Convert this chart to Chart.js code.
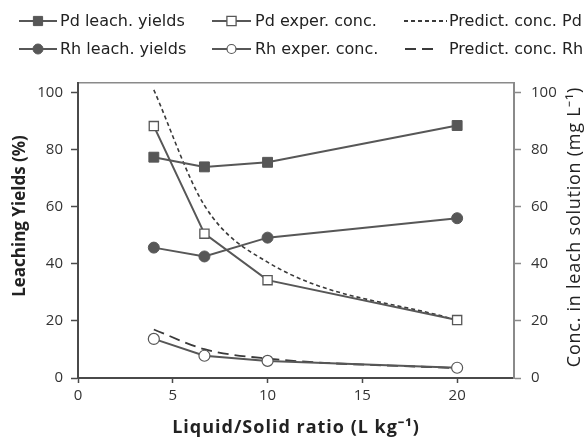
<!DOCTYPE html>
<html>
<head>
<meta charset="utf-8">
<script src="https://cdn.jsdelivr.net/npm/chart.js@4"></script>
<style>
  html, body { margin: 0; padding: 0; background: #fff; }
  #wrap { width: 585px; height: 440px; position: relative; }
</style>
</head>
<body>
<div id="wrap"><canvas id="chart" width="585" height="440"></canvas></div>
<script>
// Liquid/solid ratios (L/kg)
const ratios = [4, 6.67, 10, 20];
// Leaching yields (%) – left axis
const pdYield = [77.4, 74.0, 75.6, 88.5];
const rhYield = [45.7, 42.6, 49.2, 56.0];
// Measured concentrations (mg/L) – right axis
const pdConc = [88.3, 50.6, 34.3, 20.3];
const rhConc = [13.7, 7.8, 6.0, 3.6];
// Predicted concentrations (mg/L) – right axis
const pdPred = [101, 60.5, 40.6, 20.2];
const rhPred = [17.0, 10.1, 6.8, 3.4];

const xTicks = [0, 5, 10, 15, 20];
const yTicks = [0, 20, 40, 60, 80, 100];

const xTitle = 'Liquid/Solid ratio (L kg⁻¹)';
const yTitle = 'Leaching Yields (%)';
const y2Title = 'Conc. in leach solution (mg L⁻¹)';

const INK = '#575757';
const pts = ys => ratios.map((x, i) => ({ x, y: ys[i] }));

const series = [
  { label: 'Pd leach. yields', data: pts(pdYield), yAxisID: 'y', borderColor: INK, backgroundColor: INK,
    pointStyle: 'rect', pointRadius: 7, borderWidth: 2, pointBorderWidth: 1, legendRadius: 6.5 },
  { label: 'Pd exper. conc.', data: pts(pdConc), yAxisID: 'y2', borderColor: INK, backgroundColor: '#fff',
    pointStyle: 'rect', pointRadius: 6.5, borderWidth: 2, pointBorderWidth: 1.3, legendRadius: 6.5 },
  { label: 'Predict. conc. Pd', data: pts(pdPred), yAxisID: 'y2', borderColor: '#3a3a3a', backgroundColor: '#3a3a3a',
    pointRadius: 0, borderWidth: 1.6, borderDash: [4, 3], cubicInterpolationMode: 'monotone' },
  { label: 'Rh leach. yields', data: pts(rhYield), yAxisID: 'y', borderColor: INK, backgroundColor: INK,
    pointStyle: 'circle', pointRadius: 5.5, borderWidth: 2, pointBorderWidth: 1, legendRadius: 5 },
  { label: 'Rh exper. conc.', data: pts(rhConc), yAxisID: 'y2', borderColor: INK, backgroundColor: '#fff',
    pointStyle: 'circle', pointRadius: 5.5, borderWidth: 2, pointBorderWidth: 1.2, legendRadius: 4.5 },
  { label: 'Predict. conc. Rh', data: pts(rhPred), yAxisID: 'y2', borderColor: '#3a3a3a', backgroundColor: '#3a3a3a',
    pointRadius: 0, borderWidth: 1.8, borderDash: [11, 6], cubicInterpolationMode: 'monotone' }
];

// Legend layout: two rows, three columns
const legendSlots = [
  { x0: 19, x1: 57, tx: 60, y: 21 },
  { x0: 212, x1: 251, tx: 255, y: 21 },
  { x0: 404, x1: 447, tx: 449, y: 21 },
  { x0: 19, x1: 57, tx: 60, y: 49 },
  { x0: 212, x1: 251, tx: 255, y: 49 },
  { x0: 405, x1: 434, tx: 449, y: 49 }
];

const gridLegend = {
  id: 'gridLegend',
  afterDraw(chart) {
    const ctx = chart.ctx;
    ctx.save();
    chart.data.datasets.forEach((ds, i) => {
      const s = legendSlots[i];
      ctx.strokeStyle = ds.borderColor;
      ctx.lineWidth = 2;
      ctx.setLineDash(ds.borderDash || []);
      ctx.beginPath();
      ctx.moveTo(s.x0, s.y);
      ctx.lineTo(s.x1, s.y);
      ctx.stroke();
      ctx.setLineDash([]);
      if (ds.pointRadius > 0) {
        ctx.fillStyle = ds.backgroundColor;
        ctx.strokeStyle = ds.borderColor;
        ctx.lineWidth = ds.pointBorderWidth;
        Chart.helpers.drawPoint(ctx, {
          pointStyle: ds.pointStyle, radius: ds.legendRadius, rotation: 0, borderWidth: ds.pointBorderWidth
        }, (s.x0 + s.x1) / 2, s.y);
      }
      ctx.fillStyle = '#222';
      ctx.font = '16px "DejaVu Sans", sans-serif';
      ctx.textBaseline = 'middle';
      ctx.textAlign = 'left';
      ctx.fillText(ds.label, s.tx, s.y + 1);
    });
    ctx.restore();
  }
};

// Axis titles, placed around the plot area
const axisTitles = {
  id: 'axisTitles',
  afterDraw(chart) {
    const ctx = chart.ctx;
    const a = chart.chartArea;
    ctx.save();
    ctx.fillStyle = '#222';
    ctx.textAlign = 'center';
    ctx.textBaseline = 'middle';

    ctx.font = 'bold 18px "Open Sans", sans-serif';
    ctx.letterSpacing = '1px';
    ctx.fillText(xTitle, (a.left + a.right) / 2, 428);

    ctx.letterSpacing = '0px';
    ctx.font = 'bold 17px "Open Sans", sans-serif';
    ctx.save();
    ctx.translate(20, 216);
    ctx.rotate(-Math.PI / 2);
    ctx.fillText(yTitle, 0, 0);
    ctx.restore();

    ctx.font = '18px "Open Sans", sans-serif';
    ctx.letterSpacing = '0.75px';
    ctx.save();
    ctx.translate(575, 227);
    ctx.rotate(-Math.PI / 2);
    ctx.fillText(y2Title, 0, 0);
    ctx.restore();
    ctx.restore();
  }
};

const tickFont = { family: '"Open Sans", sans-serif', size: 15 };
const onlyTicks = list => axis => { axis.ticks = list.map(v => ({ value: v })); };

new Chart(document.getElementById('chart'), {
  type: 'line',
  data: { datasets: series },
  plugins: [gridLegend, axisTitles],
  options: {
    responsive: false,
    animation: false,
    layout: { padding: { top: 83, left: 0, right: 0, bottom: 0 } },
    plugins: { legend: { display: false }, tooltip: { enabled: false } },
    scales: {
      x: {
        type: 'linear', min: 0, max: 23,
        afterBuildTicks: onlyTicks(xTicks),
        afterFit: s => { s.height = 62; },
        border: { color: '#4a4a4a', width: 2 },
        grid: { drawOnChartArea: false, tickLength: 5, tickColor: '#4a4a4a', tickWidth: 1.5 },
        ticks: { font: tickFont, color: '#333', padding: 4, maxRotation: 0 }
      },
      xTop: {
        type: 'linear', position: 'top', min: 0, max: 23,
        afterFit: s => { s.height = 0; },
        border: { color: '#8a8a8a', width: 1.5 },
        grid: { display: false },
        ticks: { display: false }
      },
      y: {
        type: 'linear', position: 'left', min: 0, max: 103.4,
        afterBuildTicks: onlyTicks(yTicks),
        afterFit: s => { s.width = 78; },
        border: { color: '#4a4a4a', width: 2 },
        grid: { drawOnChartArea: false, tickLength: 7, tickColor: '#4a4a4a', tickWidth: 1.5 },
        ticks: { font: tickFont, color: '#333', padding: 8 }
      },
      y2: {
        type: 'linear', position: 'right', min: 0, max: 103.4,
        afterBuildTicks: onlyTicks(yTicks),
        afterFit: s => { s.width = 71; },
        border: { color: '#8a8a8a', width: 2 },
        grid: { drawOnChartArea: false, tickLength: 7, tickColor: '#8a8a8a', tickWidth: 1.5 },
        ticks: { font: tickFont, color: '#333', padding: 10 }
      }
    }
  }
});
</script>
</body>
</html>
